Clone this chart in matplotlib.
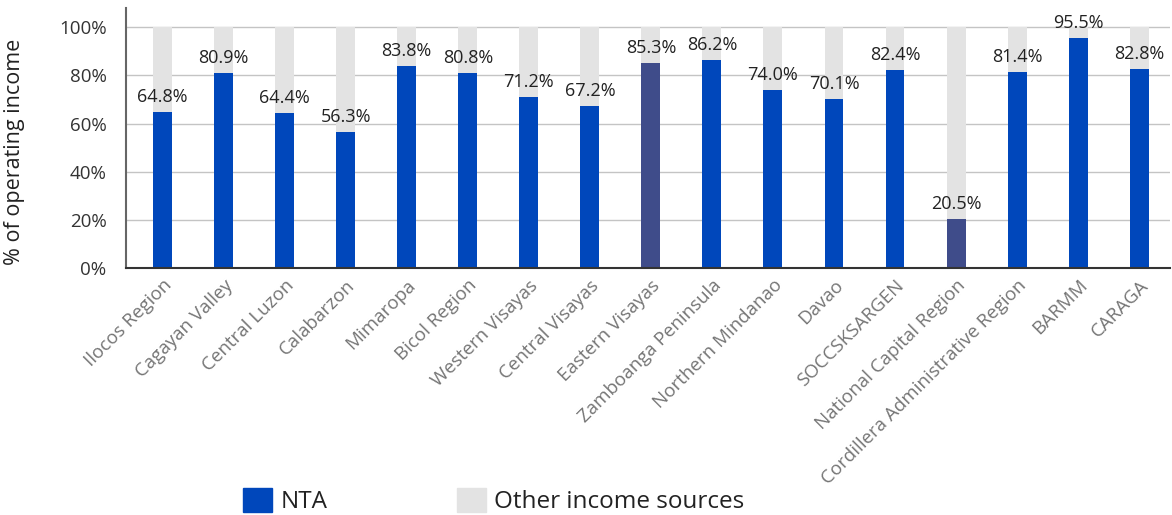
import numpy as np
import matplotlib.pyplot as plt
from matplotlib.patches import Patch

plt.rcParams['font.family'] = ['Open Sans', 'DejaVu Sans']

regions = ["Ilocos Region", "Cagayan Valley", "Central Luzon", "Calabarzon",
           "Mimaropa", "Bicol Region", "Western Visayas", "Central Visayas",
           "Eastern Visayas", "Zamboanga Peninsula", "Northern Mindanao",
           "Davao", "SOCCSKSARGEN", "National Capital Region",
           "Cordillera Administrative Region", "BARMM", "CARAGA"]
nta = [64.8, 80.9, 64.4, 56.3, 83.8, 80.8, 71.2, 67.2, 85.3, 86.2, 74.0,
       70.1, 82.4, 20.5, 81.4, 95.5, 82.8]
other = [100 - v for v in nta]
highlighted = ["Eastern Visayas", "National Capital Region"]

BLUE = "#0047BB"
DARK = "#3F4C8A"
GREY = "#E3E3E3"

fig = plt.figure(figsize=(11.72, 5.15), dpi=100)
ax = fig.add_axes([0.1075, 0.4796, 0.8905, 0.5049])

x = np.arange(len(regions))
colors = [DARK if r in highlighted else BLUE for r in regions]
ax.bar(x, nta, width=0.31, color=colors, zorder=2)
ax.bar(x, other, width=0.31, bottom=nta, color=GREY, zorder=2)

for xi, v in zip(x, nta):
    ax.text(xi, v + 2.5, f"{v:.1f}%", ha="center", va="bottom",
            fontsize=13, color="#222222", zorder=3)

ax.set_xlim(-0.6, 16.5)
ax.set_ylim(0, 108)
ax.set_yticks([0, 20, 40, 60, 80, 100])
ax.set_yticklabels([f"{t}%" for t in [0, 20, 40, 60, 80, 100]],
                   fontsize=13.5, color="#333333")
ax.yaxis.grid(True, color="#C4C4C4", linewidth=1, zorder=0)
ax.tick_params(axis="y", length=0, pad=14)
ax.tick_params(axis="x", length=0, pad=6)
ax.set_xticks(x)
ax.set_xticklabels(regions, rotation=45, ha="right", rotation_mode="anchor",
                   fontsize=13.5, color="#757575")
ax.set_ylabel("% of operating income", fontsize=15.5, color="#222222")
ax.yaxis.set_label_coords(-0.097, 0.446)

for side in ["top", "right"]:
    ax.spines[side].set_visible(False)
ax.spines["left"].set_color("#666666")
ax.spines["left"].set_linewidth(1.5)
ax.spines["bottom"].set_color("#333333")
ax.spines["bottom"].set_linewidth(1.5)

handles = [Patch(color=BLUE, label="NTA"),
           Patch(color=GREY, label="Other income sources")]
fig.legend(handles=handles, loc="lower left", bbox_to_anchor=(0.197, -0.022),
           ncol=2, frameon=False, fontsize=17.5, handlelength=1.2,
           handleheight=1.2, handletextpad=0.35, columnspacing=5.3,
           borderpad=0, labelcolor="#222222")

fig.savefig("out.png", dpi=100)
